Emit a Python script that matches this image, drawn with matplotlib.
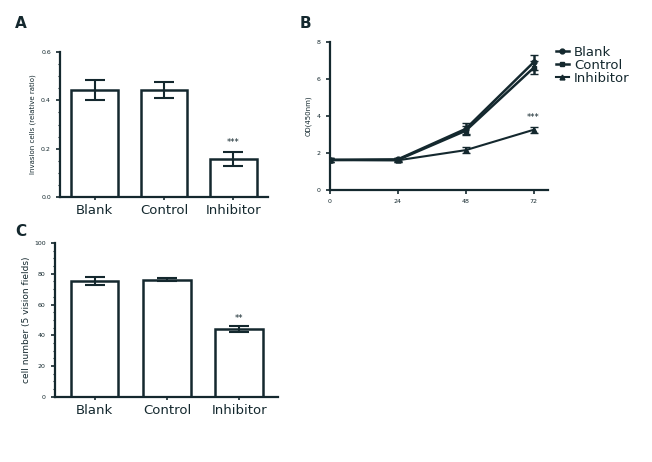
import matplotlib
matplotlib.use("Agg")
import matplotlib.pyplot as plt
import numpy as np
from matplotlib.ticker import MultipleLocator
from matplotlib.lines import Line2D

groups = ["Blank", "Control", "Inhibitor"]

# Panel A
a_values = [0.443, 0.443, 0.157]
a_errors = [0.040, 0.035, 0.028]
a_ticks = [0.0, 0.2, 0.4, 0.6]

# Panel B
b_hours = [0, 24, 48, 72]
b_blank = [1.62, 1.65, 3.30, 6.90]
b_control = [1.62, 1.62, 3.20, 6.60]
b_inhibitor = [1.62, 1.60, 2.15, 3.25]
b_blank_err = [0.10, 0.10, 0.30, 0.40]
b_control_err = [0.10, 0.10, 0.25, 0.35]
b_inhibitor_err = [0.10, 0.10, 0.15, 0.15]
b_yticks = [0, 2, 4, 6, 8]

# Panel C
c_values = [75.5, 76.0, 44.0]
c_errors = [2.5, 1.0, 1.8]
c_yticks = [0, 20, 40, 60, 80, 100]

ink = "#14282e"
plt.rcParams['font.family'] = ['DejaVu Sans']

fig = plt.figure(figsize=(6.52, 4.62), dpi=100)

def style(ax):
    for s in ["top", "right"]:
        ax.spines[s].set_visible(False)
    for s in ["left", "bottom"]:
        ax.spines[s].set_color(ink)
        ax.spines[s].set_linewidth(1.6)
    ax.tick_params(colors=ink, width=1.2, length=3, labelsize=4.5)

# ---- A
axA = fig.add_axes([0.092, 0.574, 0.319, 0.313])
x = np.arange(len(groups))
axA.bar(x, a_values, width=0.67, color="white", edgecolor=ink, linewidth=1.8,
        yerr=a_errors, error_kw=dict(ecolor=ink, elinewidth=1.5, capsize=7, capthick=1.5))
axA.set_xlim(-0.5, 2.5)
axA.set_ylim(0, 0.6)
axA.set_yticks(a_ticks)
axA.set_yticklabels([f"{t:.1f}" for t in a_ticks])
axA.yaxis.set_minor_locator(MultipleLocator(0.05))
axA.set_xticks(x)
axA.set_xticklabels(groups)
style(axA)
axA.tick_params(axis="x", labelsize=9.5, length=2)
axA.tick_params(axis="y", which="minor", length=1.5, width=0.8, colors=ink)
axA.set_ylabel("Invasion cells (relative ratio)", fontsize=5, color=ink)
axA.text(2, a_values[2] + a_errors[2] + 0.02, "***", ha="center", va="bottom", fontsize=6, color=ink)
fig.text(0.023, 0.965, "A", fontsize=11, fontweight="bold", color=ink, va="top")

# ---- B
axB = fig.add_axes([0.506, 0.589, 0.334, 0.320])
axB.errorbar(b_hours, b_blank, yerr=b_blank_err, color=ink, marker="o", ms=3.5,
             lw=1.8, capsize=3)
axB.errorbar(b_hours, b_control, yerr=b_control_err, color=ink, marker="s", ms=3,
             lw=1.8, capsize=3)
axB.errorbar(b_hours, b_inhibitor, yerr=b_inhibitor_err, color=ink, marker="^", ms=3.5,
             lw=1.5, capsize=3)
axB.set_xlim(0, 77)
axB.set_ylim(0, 8)
axB.set_xticks(b_hours)
axB.set_yticks(b_yticks)
style(axB)
axB.set_ylabel("OD(450nm)", fontsize=5, color=ink)
axB.text(72, b_inhibitor[3] + 0.4, "***", ha="center", va="bottom", fontsize=6, color=ink)
handles = [Line2D([], [], color=ink, marker="o", ms=3.5, lw=1.8),
           Line2D([], [], color=ink, marker="s", ms=3, lw=1.8),
           Line2D([], [], color=ink, marker="^", ms=3.5, lw=1.5)]
axB.legend(handles, groups, loc="upper left", bbox_to_anchor=(1.0, 1.03), frameon=False,
           fontsize=9.5, handlelength=1.0, handletextpad=0.4, labelspacing=0.0,
           borderaxespad=0.2, labelcolor=ink)
fig.text(0.46, 0.965, "B", fontsize=11, fontweight="bold", color=ink, va="top")

# ---- C
axC = fig.add_axes([0.084, 0.141, 0.342, 0.333])
axC.bar(x, c_values, width=0.66, color="white", edgecolor=ink, linewidth=1.8,
        yerr=c_errors, error_kw=dict(ecolor=ink, elinewidth=1.5, capsize=7, capthick=1.5))
axC.set_xlim(-0.55, 2.53)
axC.set_ylim(0, 100)
axC.set_yticks(c_yticks)
axC.yaxis.set_minor_locator(MultipleLocator(5))
axC.set_xticks(x)
axC.set_xticklabels(groups)
style(axC)
axC.tick_params(axis="x", labelsize=9.5, length=2)
axC.tick_params(axis="y", which="minor", length=1.5, width=0.8, colors=ink)
axC.set_ylabel("cell number (5 vision fields)", fontsize=6.5, color=ink, labelpad=2)
axC.text(2, c_values[2] + c_errors[2] + 2, "**", ha="center", va="bottom", fontsize=6, color=ink)
fig.text(0.023, 0.515, "C", fontsize=11, fontweight="bold", color=ink, va="top")

fig.savefig("out.png", dpi=100)
